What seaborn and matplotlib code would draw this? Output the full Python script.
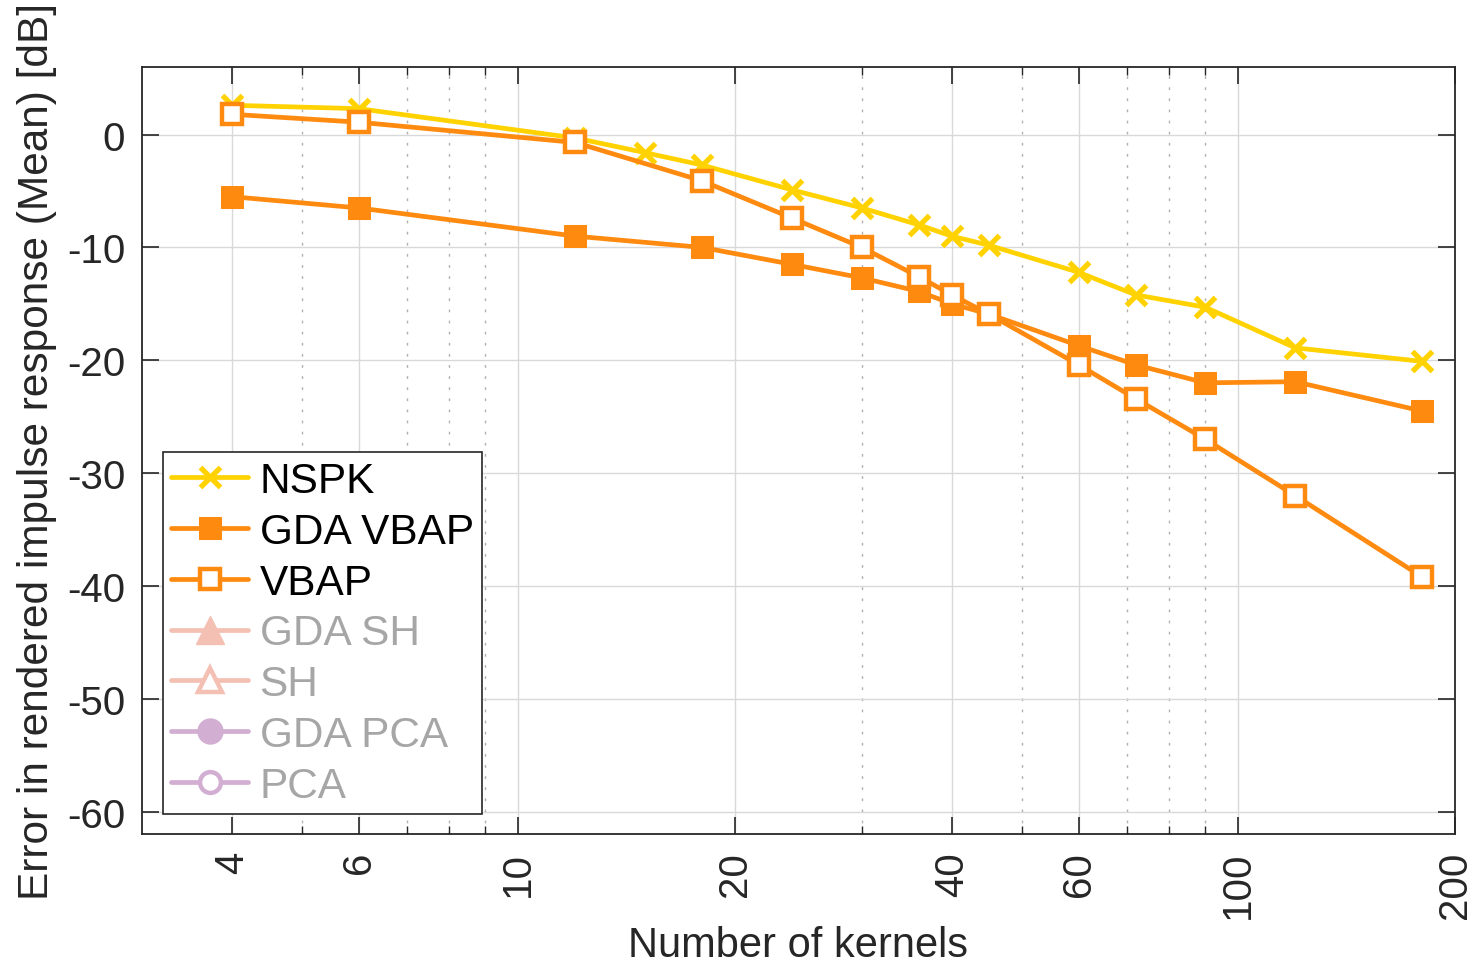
import numpy as np
import pandas as pd
import matplotlib
matplotlib.use('Agg')
import matplotlib.pyplot as plt
from matplotlib.ticker import FixedLocator, NullFormatter
import seaborn as sns

sns.set_style('ticks')
plt.rcParams['font.family'] = ['Liberation Sans', 'DejaVu Sans']
plt.rcParams['axes.unicode_minus'] = False

# data
nspk_k = [4, 6, 12, 15, 18, 24, 30, 36, 40, 45, 60, 72, 90, 120, 180]
nspk_err = [2.6, 2.3, -0.3, -1.6, -2.7, -4.9, -6.5, -8.0, -9.0, -9.8, -12.2, -14.2, -15.3, -18.9, -20.1]

vbap_k = [4, 6, 12, 18, 24, 30, 36, 40, 45, 60, 72, 90, 120, 180]
gda_vbap_err = [-5.5, -6.5, -9.0, -10.0, -11.5, -12.7, -13.9, -15.0, -15.9, -18.7, -20.4, -22.0, -21.9, -24.5]
vbap_err = [1.8, 1.1, -0.7, -4.1, -7.4, -10.0, -12.6, -14.2, -15.9, -20.4, -23.4, -27.0, -32.0, -39.2]

hidden_labels = ['GDA SH', 'SH', 'GDA PCA', 'PCA']

x_major = [4, 6, 10, 20, 40, 60, 100, 200]
x_minor = [5, 7, 8, 9, 30, 50, 70, 80, 90]
y_ticks = [0, -10, -20, -30, -40, -50, -60]

yellow = '#FFD200'
orange = '#FF8A10'
pink = '#F4C0B4'
lilac = '#D2AED2'

nspk = pd.DataFrame({'k': nspk_k, 'err': nspk_err})
gda = pd.DataFrame({'k': vbap_k, 'err': gda_vbap_err})
vb = pd.DataFrame({'k': vbap_k, 'err': vbap_err})

fig = plt.figure(figsize=(14.77, 9.70), dpi=100)
ax = fig.add_axes([0.0961, 0.139, 0.889, 0.791])

lw = 3.4
sns.lineplot(data=nspk, x='k', y='err', ax=ax, color=yellow, lw=lw, marker='x',
             ms=14, mew=3.8, mec=yellow, label='NSPK')
sns.lineplot(data=gda, x='k', y='err', ax=ax, color=orange, lw=lw, marker='s',
             ms=16, mec=orange, mfc=orange, label='GDA VBAP')
sns.lineplot(data=vb, x='k', y='err', ax=ax, color=orange, lw=lw, marker='s',
             ms=14, mec=orange, mfc='white', mew=3.2, label='VBAP')
# series not shown in this panel, only in legend
ax.plot([], [], color=pink, lw=lw, marker='^', ms=20, mfc=pink, mec=pink, label='GDA SH')
ax.plot([], [], color=pink, lw=lw, marker='^', ms=17, mfc='white', mec=pink, mew=3.2, label='SH')
ax.plot([], [], color=lilac, lw=lw, marker='o', ms=18, mfc=lilac, mec=lilac, label='GDA PCA')
ax.plot([], [], color=lilac, lw=lw, marker='o', ms=15, mfc='white', mec=lilac, mew=3.2, label='PCA')

ax.set_xscale('log')
ax.set_xlim(3, 200)
ax.set_ylim(-62, 6)
ax.xaxis.set_major_locator(FixedLocator(x_major))
ax.xaxis.set_minor_locator(FixedLocator(x_minor))
ax.xaxis.set_minor_formatter(NullFormatter())
ax.set_xticklabels([str(v) for v in x_major], rotation=90)
ax.set_yticks(y_ticks)

ax.grid(which='major', color='#d9d9d9', lw=1.0, ls='-')
ax.grid(which='minor', axis='x', color='#b0b0b0', lw=1.0, ls=(0, (2, 6)))
ax.set_axisbelow(True)

ax.tick_params(which='both', direction='in', top=True, right=True, labelsize=29,
               color='#262626', labelcolor='#262626', pad=12)
ax.tick_params(which='major', length=12, width=1.2)
ax.tick_params(which='minor', length=6, width=1.0)
for s in ax.spines.values():
    s.set_color('#262626')
    s.set_linewidth(1.3)

ax.set_xlabel('Number of kernels', fontsize=30, color='#262626', labelpad=5)
ax.set_ylabel('Error in rendered impulse response (Mean) [dB]', fontsize=30.5,
              color='#262626', labelpad=7)

leg = ax.legend(loc='lower left', bbox_to_anchor=(0.016, 0.026), fontsize=30.5,
                frameon=True, fancybox=False, edgecolor='#262626', framealpha=1,
                handlelength=1.8, handletextpad=0.28, labelspacing=0.255,
                borderpad=0.2, borderaxespad=0)
leg.get_frame().set_linewidth(1.2)
for t in leg.get_texts():
    t.set_color('#a6a6a6' if t.get_text() in hidden_labels else 'black')

fig.savefig('out.png', dpi=100)
